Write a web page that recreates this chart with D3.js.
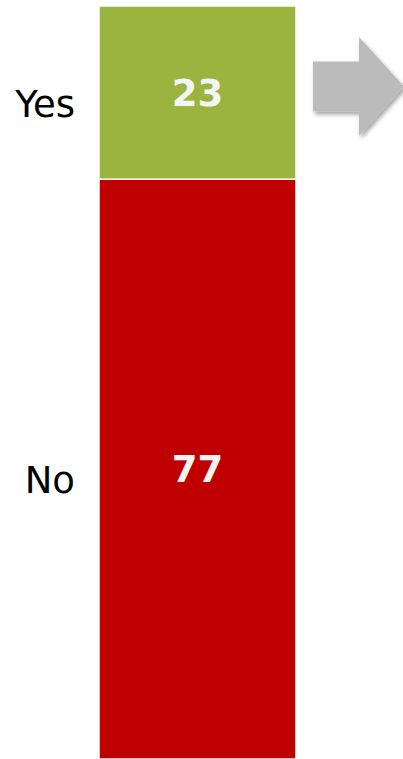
<!DOCTYPE html>
<html>
<head>
<meta charset="utf-8">
<script src="https://cdn.jsdelivr.net/npm/d3@7"></script>
<style>
  html, body { margin: 0; padding: 0; background: #fff; }
  svg { display: block; }
</style>
</head>
<body>
<svg id="chart" width="403" height="759"></svg>
<script>
const categories = ["No", "Yes"];          // stacked bottom → top
const values = [77, 23];
const colors = ["#C00000", "#9BB43F"];
const groups = ["Total"];

const W = 403, H = 759;
const svg = d3.select("#chart");

const defs = svg.append("defs");
const f = defs.append("filter").attr("id", "shadow")
  .attr("x", "-20%").attr("y", "-20%").attr("width", "150%").attr("height", "150%");
f.append("feDropShadow").attr("dx", 2).attr("dy", 3).attr("stdDeviation", 2)
  .attr("flood-color", "#000").attr("flood-opacity", 0.35);

const x = d3.scaleBand().domain(groups).range([99, 296]).padding(0);
const y = d3.scaleLinear().domain([0, 100]).range([H, 6]);

// stack
let acc = 0;
const stacked = categories.map((c, i) => {
  const d = { cat: c, v: values[i], y0: acc, y1: acc + values[i], color: colors[i] };
  acc += values[i];
  return d;
});

const g = svg.append("g");
g.selectAll("rect.seg").data(stacked).join("rect")
  .attr("class", "seg")
  .attr("x", x("Total"))
  .attr("width", x.bandwidth())
  .attr("y", d => y(d.y1))
  .attr("height", d => y(d.y0) - y(d.y1))
  .attr("fill", d => d.color)
  .attr("stroke", "#fff")
  .attr("stroke-width", 1.5);

// value labels
g.selectAll("text.val").data(stacked).join("text")
  .attr("class", "val")
  .attr("x", x("Total") + x.bandwidth() / 2)
  .attr("y", d => (y(d.y0) + y(d.y1)) / 2 + 13)
  .attr("text-anchor", "middle")
  .attr("font-family", "DejaVu Sans, Verdana, sans-serif")
  .attr("font-weight", "bold")
  .attr("font-size", 37)
  .attr("fill", "#F4F4F4")
  .text(d => d.v);

// category labels
g.selectAll("text.cat").data(stacked).join("text")
  .attr("class", "cat")
  .attr("x", 75)
  .attr("y", d => (y(d.y0) + y(d.y1)) / 2 + 24)
  .attr("text-anchor", "end")
  .attr("font-family", "DejaVu Sans, Verdana, sans-serif")
  .attr("font-size", 37)
  .attr("fill", "#000")
  .text(d => d.cat);

// arrow
const ay = 86.5;
const arrowPts = [
  [313, ay - 25], [359, ay - 25], [359, ay - 49.5], [404, ay],
  [359, ay + 49.5], [359, ay + 25], [313, ay + 25]
];
svg.append("path")
  .attr("d", d3.line()(arrowPts) + "Z")
  .attr("fill", "#BBBBBB")
  .attr("filter", "url(#shadow)");
</script>
</body>
</html>
